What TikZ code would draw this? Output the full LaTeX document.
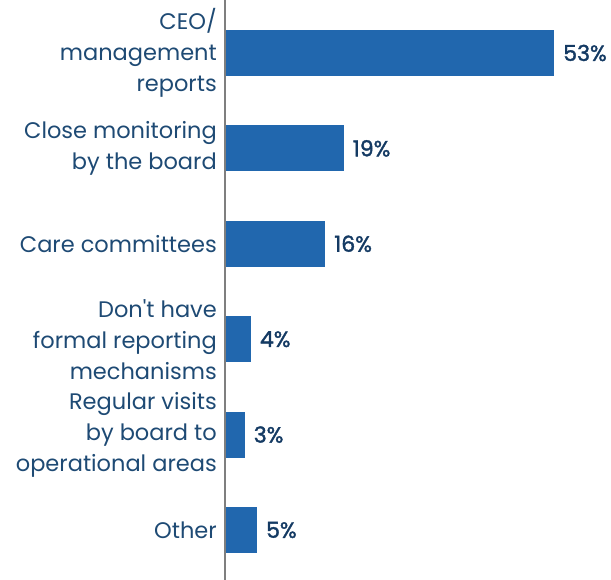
\documentclass[tikz,border=0pt]{standalone}
\usepackage{fontspec}
\setmainfont{Poppins}
\newfontfamily\plainq{Poppins}[Ligatures=ResetAll]
\newfontfamily\pctfont{Poppins}[FakeBold=1.6]
\definecolor{barblue}{HTML}{2167AE}
\definecolor{labnavy}{HTML}{1E4A74}
\definecolor{pctnavy}{HTML}{143A63}
\definecolor{axisgray}{HTML}{7F7F7F}
\begin{document}
\begin{tikzpicture}[x=1pt,y=-1pt,
  cat/.style={anchor=east,align=right,text=labnavy,font=\fontsize{22.5}{31}\selectfont,inner sep=0pt},
  pct/.style={anchor=west,text=pctnavy,font=\pctfont\fontsize{22}{24}\selectfont,inner sep=0pt},
  bar/.style={fill=barblue,draw=none}]
\useasboundingbox (0,0) rectangle (611,580);
\def\sc{6.19}
\foreach \i/\v/\t in {0/53/{CEO/\\management\\reports},1/19/{Close monitoring\\by the board},2/16/{Care committees},3/4/{Don{\plainq'}t have\\formal reporting\\mechanisms},4/3/{Regular visits\\by board to\\operational areas},5/5/{Other}}{
  \pgfmathsetmacro\yc{53+95.4*\i}
  \pgfmathsetmacro\xe{226+\sc*\v}
  \fill[bar] (226,\yc-23) rectangle (\xe,\yc+23) coordinate[pos=0.5] (b\i);
  \node[cat] (c\i) at (217,\yc) {\t};
  \node[pct] (p\i) at (\xe+9,\yc) {\v\%};
}
\draw[axisgray,line width=2pt] (225,0) coordinate (axt) -- (225,580) coordinate (axb);
\end{tikzpicture}
\end{document}
